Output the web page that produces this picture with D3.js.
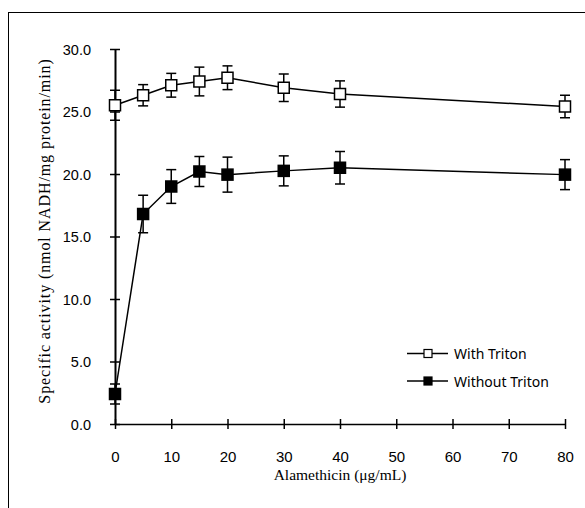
<!DOCTYPE html>
<html><head><meta charset="utf-8">
<script src="https://cdn.jsdelivr.net/npm/d3@7"></script>
<style>body{margin:0;background:#fff}svg{display:block}</style>
</head><body>
<svg id="c" width="585" height="508"></svg>
<script>
const doses = [0, 5, 10, 15, 20, 30, 40, 80];
const withTriton = [25.5, 26.3, 27.1, 27.4, 27.7, 26.9, 26.4, 25.4];
const withTritonErr = [1.2, 0.85, 0.95, 1.15, 0.95, 1.1, 1.05, 0.9];
const withoutTriton = [2.4, 16.8, 19.0, 20.2, 19.95, 20.25, 20.5, 19.95];
const withoutTritonErr = [0.8, 1.5, 1.35, 1.2, 1.4, 1.2, 1.3, 1.2];
const xTicks = [0, 10, 20, 30, 40, 50, 60, 70, 80];
const yTicks = [0, 5, 10, 15, 20, 25, 30];
const seriesNames = ["With Triton", "Without Triton"];

const svg = d3.select("#c");
svg.append("rect").attr("x", 8.5).attr("y", 12.5).attr("width", 600).attr("height", 520)
  .attr("fill", "none").attr("stroke", "#000").attr("stroke-width", 1);

const x = d3.scaleLinear().domain([0, 80]).range([115, 565]);
const y = d3.scaleLinear().domain([0, 30]).range([424, 49]);

// axes
const gx = svg.append("g").attr("transform", `translate(0,${y(0)})`)
  .call(d3.axisBottom(x).tickValues(xTicks).tickSize(0).tickFormat(d3.format("d")));
gx.select(".domain").attr("stroke-width", 1.5);
gx.selectAll("text").attr("dy", 0).attr("y", 38).attr("font-family", "Liberation Sans, Arial, sans-serif").attr("font-size", 15).attr("fill", "#000");
gx.selectAll(".tick").append("line").attr("y1", -5).attr("y2", 5).attr("stroke", "#000").attr("stroke-width", 1.5);

const gy = svg.append("g").attr("transform", `translate(${x(0)},0)`)
  .call(d3.axisLeft(y).tickValues(yTicks).tickSize(0).tickFormat(d3.format(".1f")));
gy.select(".domain").attr("stroke-width", 2);
gy.selectAll("text").attr("x", -24).attr("dy", "0.36em").attr("font-family", "Liberation Sans, Arial, sans-serif").attr("font-size", 14.5).attr("fill", "#000");
gy.selectAll(".tick").append("line").attr("x1", -5).attr("x2", 5).attr("stroke", "#000").attr("stroke-width", 1.5);

// titles
svg.append("text").attr("x", 340).attr("y", 480).attr("text-anchor", "middle")
  .attr("font-family", "Liberation Serif, Times New Roman, serif").attr("font-size", 15.5)
  .text("Alamethicin (μg/mL)");
svg.append("text").attr("transform", "translate(50,231) rotate(-90)").attr("text-anchor", "middle")
  .attr("font-family", "Liberation Serif, Times New Roman, serif").attr("font-size", 16)
  .attr("letter-spacing", 0.9)
  .text("Specific activity (nmol NADH/mg protein/min)");

function drawSeries(vals, errs, fill) {
  const data = doses.map((d, i) => ({x: d, y: vals[i], e: errs[i]}));
  const g = svg.append("g");
  g.append("path").datum(data)
    .attr("d", d3.line().x(d => x(d.x)).y(d => y(d.y)))
    .attr("fill", "none").attr("stroke", "#000").attr("stroke-width", 1.5);
  const eb = g.selectAll(".eb").data(data).enter().append("g");
  eb.append("line").attr("x1", d => x(d.x)).attr("x2", d => x(d.x))
    .attr("y1", d => y(d.y - d.e)).attr("y2", d => y(d.y + d.e)).attr("stroke", "#000").attr("stroke-width", 1.5);
  [1, -1].forEach(s => {
    eb.append("line").attr("x1", d => x(d.x) - 5).attr("x2", d => x(d.x) + 5)
      .attr("y1", d => y(d.y + s * d.e)).attr("y2", d => y(d.y + s * d.e))
      .attr("stroke", "#000").attr("stroke-width", 1.5);
  });
  g.selectAll(".m").data(data).enter().append("rect")
    .attr("x", d => x(d.x) - 5.5).attr("y", d => y(d.y) - 5.5)
    .attr("width", 11).attr("height", 11)
    .attr("fill", fill).attr("stroke", "#000").attr("stroke-width", 1.5);
}
drawSeries(withTriton, withTritonErr, "#fff");
drawSeries(withoutTriton, withoutTritonErr, "#000");

// legend
const fills = ["#fff", "#000"];
seriesNames.forEach((name, i) => {
  const ly = 353.5 + i * 27.5;
  svg.append("line").attr("x1", 407).attr("x2", 448).attr("y1", ly).attr("y2", ly)
    .attr("stroke", "#000").attr("stroke-width", 1.5);
  svg.append("rect").attr("x", 424).attr("y", ly - 4).attr("width", 8).attr("height", 8)
    .attr("fill", fills[i]).attr("stroke", "#000").attr("stroke-width", 1.2);
  svg.append("text").attr("x", 454).attr("y", ly + 5.5)
    .attr("font-family", "Noto Sans, Open Sans, sans-serif").attr("font-size", 14)
    .text(name);
});
</script>
</body></html>
